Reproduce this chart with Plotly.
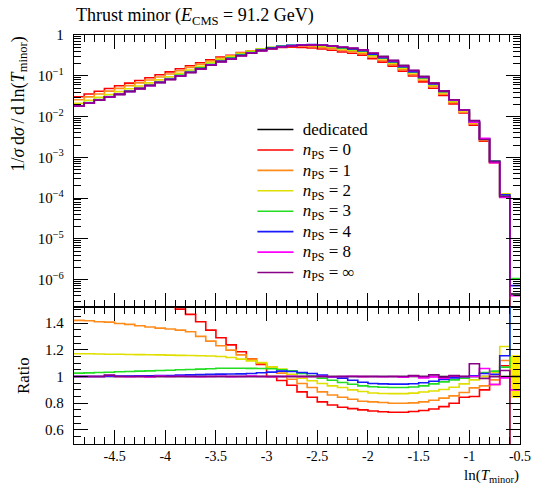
import numpy as np
import plotly.graph_objects as go

# ---------------- data ----------------
bin_lo = -4.9
bin_width = 0.1
n_bins = 44
edges = [round(bin_lo + bin_width * i, 2) for i in range(n_bins + 1)]

# dedicated distribution, log10 of 1/sigma dsigma/dln(Tminor)
dedicated_log10 = [
    -1.74, -1.668, -1.596, -1.525, -1.455, -1.385, -1.315, -1.24, -1.165, -1.09,
    -1.005, -0.92, -0.83, -0.74, -0.654, -0.588, -0.507, -0.449, -0.384, -0.335,
    -0.294, -0.27, -0.253, -0.245, -0.253, -0.27, -0.302, -0.327, -0.368, -0.449,
    -0.531, -0.629, -0.752, -0.874, -1.021, -1.185, -1.373, -1.593, -1.838, -2.14,
    -2.557, -3.105, -3.98, -6.35,
]
dedicated_relerr = [0.0] * 43 + [0.16]

ratio_n0 = [
    1.68, 1.66, 1.65, 1.64, 1.62, 1.60, 1.58, 1.56, 1.545, 1.53,
    1.504, 1.465, 1.41, 1.347, 1.29, 1.237, 1.185, 1.133, 1.09, 1.0,
    0.97, 0.935, 0.885, 0.845, 0.81, 0.787, 0.77, 0.76, 0.75, 0.742,
    0.736, 0.733, 0.733, 0.738, 0.746, 0.757, 0.775, 0.80, 0.845, 0.85,
    0.9, 0.94, 1.08, 0.001,
]
ratio_n1 = [
    1.42, 1.417, 1.41, 1.407, 1.397, 1.39, 1.38, 1.37, 1.362, 1.355,
    1.347, 1.335, 1.30, 1.265, 1.23, 1.197, 1.162, 1.13, 1.097, 1.072,
    1.025, 0.98, 0.948, 0.918, 0.885, 0.862, 0.845, 0.83, 0.815, 0.81,
    0.805, 0.80, 0.80, 0.803, 0.81, 0.822, 0.838, 0.855, 0.88, 0.915,
    0.93, 0.975, 1.12, 0.001,
]
ratio_n2 = [
    1.17, 1.17, 1.168, 1.167, 1.166, 1.165, 1.164, 1.163, 1.162, 1.16,
    1.158, 1.157, 1.155, 1.153, 1.15, 1.142, 1.13, 1.117, 1.105, 1.072,
    1.055, 1.017, 0.988, 0.968, 0.948, 0.93, 0.918, 0.90, 0.888, 0.877,
    0.873, 0.872, 0.872, 0.876, 0.884, 0.892, 0.903, 0.92, 0.945, 0.975,
    1.0, 1.03, 1.225, 0.001,
]
ratio_n3 = [
    1.025, 1.027, 1.03, 1.032, 1.035, 1.037, 1.04, 1.042, 1.045, 1.047,
    1.05, 1.052, 1.055, 1.058, 1.062, 1.062, 1.062, 1.061, 1.06, 1.058,
    1.05, 1.042, 1.022, 1.005, 0.988, 0.972, 0.955, 0.942, 0.93, 0.923,
    0.92, 0.918, 0.918, 0.922, 0.93, 0.945, 0.96, 0.975, 0.988, 1.0,
    1.03, 1.04, 1.07, 2.4,
]
ratio_n4 = [
    1.0, 1.0, 1.0, 1.002, 1.003, 1.004, 1.005, 1.006, 1.007, 1.008,
    1.01, 1.012, 1.014, 1.016, 1.018, 1.019, 1.02, 1.022, 1.028, 1.033,
    1.04, 1.037, 1.03, 1.022, 1.01, 0.997, 0.988, 0.972, 0.957, 0.948,
    0.945, 0.943, 0.943, 0.946, 0.953, 0.965, 0.978, 0.99, 0.998, 1.005,
    1.022, 1.017, 1.155, 1.6,
]
ratio_n8 = [
    1.0, 1.0, 1.0, 1.008, 1.0, 0.998, 1.0, 0.996, 1.004, 1.0,
    1.002, 1.0, 0.998, 1.0, 1.002, 0.999, 1.0, 1.003, 1.0, 0.998,
    1.0, 1.002, 0.999, 1.0, 1.001, 0.998, 1.0, 1.002, 0.999, 1.0,
    0.998, 1.0, 0.995, 1.004, 0.99, 0.997, 0.988, 1.005, 1.0, 1.0,
    1.06, 0.94, 0.99, 0.9,
]
ratio_ninf = [
    1.0, 1.0, 1.0, 1.01, 1.0, 1.0, 1.0, 1.0, 1.0, 1.0,
    1.0, 1.0, 1.0, 1.0, 1.0, 1.0, 1.0, 1.0, 1.0, 1.0,
    1.0, 1.0, 1.0, 1.0, 1.0, 1.0, 1.0, 1.0, 1.0, 1.0,
    1.0, 1.0, 1.0, 1.007, 1.0, 1.012, 0.995, 1.008, 1.0, 1.095,
    0.985, 1.0, 1.045, 0.2,
]

series_names = ["<i>n</i><sub>PS</sub> = 0", "<i>n</i><sub>PS</sub> = 1", "<i>n</i><sub>PS</sub> = 2",
                "<i>n</i><sub>PS</sub> = 3", "<i>n</i><sub>PS</sub> = 4", "<i>n</i><sub>PS</sub> = 8",
                "<i>n</i><sub>PS</sub> = ∞"]
series_ratios = [ratio_n0, ratio_n1, ratio_n2, ratio_n3, ratio_n4, ratio_n8, ratio_ninf]
series_colors = ["#ff0000", "#ff8c1a", "#e0e000", "#22dd22", "#1a1aff", "#ff00ff", "#880088"]

x_tickvals = [-4.5, -4, -3.5, -3, -2.5, -2, -1.5, -1, -0.5]
x_ticktext = ["-4.5", "-4", "-3.5", "-3", "-2.5", "-2", "-1.5", "-1", "-0.5"]
y_tickvals = [1e-6, 1e-5, 1e-4, 1e-3, 1e-2, 1e-1, 1]
y_ticktext = ["10<sup>−6</sup>", "10<sup>−5</sup>", "10<sup>−4</sup>", "10<sup>−3</sup>",
              "10<sup>−2</sup>", "10<sup>−1</sup>", "1"]
r_tickvals = [0.6, 0.8, 1.0, 1.2, 1.4]
r_ticktext = ["0.6", "0.8", "1", "1.2", "1.4"]

# ---------------- figure ----------------
FONT = "Liberation Serif"
ded = np.power(10.0, np.array(dedicated_log10))


def steps(vals):
    v = list(vals)
    return v + [v[-1]]


fig = go.Figure()

# dedicated error band in ratio
relerr = np.array(dedicated_relerr)
for i in range(n_bins):
    if relerr[i] > 0:
        fig.add_trace(go.Scatter(
            x=[edges[i], edges[i + 1], edges[i + 1], edges[i], edges[i]],
            y=[1 - relerr[i], 1 - relerr[i], 1 + relerr[i], 1 + relerr[i], 1 - relerr[i]],
            fill="toself", fillcolor="#ffee00", line=dict(width=0, color="#ffee00"),
            mode="lines", showlegend=False, hoverinfo="skip", xaxis="x2", yaxis="y2"))

legend_span = "<span style='font-size:17px'> %s</span>"

fig.add_trace(go.Scatter(x=edges, y=steps(ded), mode="lines", line_shape="hv",
                         line=dict(color="black", width=1.6), name=legend_span % "dedicated",
                         xaxis="x", yaxis="y"))
fig.add_trace(go.Scatter(x=edges, y=steps(np.ones(n_bins)), mode="lines", line_shape="hv",
                         line=dict(color="black", width=1.6), showlegend=False,
                         xaxis="x2", yaxis="y2"))

for name, ratio, col in zip(series_names, series_ratios, series_colors):
    vals = ded * np.array(ratio)
    fig.add_trace(go.Scatter(x=edges, y=steps(vals), mode="lines", line_shape="hv",
                             line=dict(color=col, width=1.6), name=legend_span % name,
                             xaxis="x", yaxis="y"))
    fig.add_trace(go.Scatter(x=edges, y=steps(ratio), mode="lines", line_shape="hv",
                             line=dict(color=col, width=1.6), showlegend=False,
                             xaxis="x2", yaxis="y2"))

minor_log = [k * 10.0 ** d for d in range(-7, 0) for k in range(2, 10)]

axis_common = dict(showline=True, linecolor="black", linewidth=1.3, mirror="allticks",
                   ticks="inside", tickcolor="black", tickwidth=1.1, showgrid=False,
                   zeroline=False)

H = 486
top, bottom = 35, 42
split = 307
ph = H - top - bottom
dom_split = (H - bottom - split) / ph

fig.update_layout(
    width=543, height=486,
    margin=dict(l=74, r=14, t=top, b=bottom),
    paper_bgcolor="white", plot_bgcolor="white",
    font=dict(family=FONT, size=15, color="black"),
    xaxis=dict(domain=[0, 1], anchor="y", range=[-4.9, -0.5], tickmode="array",
               tickvals=x_tickvals, ticktext=x_ticktext, showticklabels=False, ticklen=14,
               minor=dict(tickmode="linear", tick0=-4.9, dtick=0.1, ticks="inside",
                          ticklen=7, tickcolor="black", tickwidth=1.1),
               **axis_common),
    yaxis=dict(domain=[dom_split, 1], anchor="x", type="log", range=[-6.67, 0],
               tickmode="array", tickvals=y_tickvals, ticktext=y_ticktext, ticklen=14,
               ticklabelstandoff=6,
               minor=dict(tickmode="array", tickvals=minor_log, ticks="inside",
                          ticklen=7, tickcolor="black", tickwidth=1.1),
               **axis_common),
    xaxis2=dict(domain=[0, 1], anchor="y2", range=[-4.9, -0.5], tickmode="array",
                tickvals=x_tickvals, ticktext=x_ticktext, ticklen=14, ticklabelstandoff=-1,
                tickfont=dict(size=14),
                minor=dict(tickmode="linear", tick0=-4.9, dtick=0.1, ticks="inside",
                           ticklen=7, tickcolor="black", tickwidth=1.1),
                **axis_common),
    yaxis2=dict(domain=[0, dom_split], anchor="x2", range=[0.495, 1.52],
                tickmode="array", tickvals=r_tickvals, ticktext=r_ticktext, ticklen=14,
                ticklabelstandoff=6,
                minor=dict(tickmode="linear", tick0=0, dtick=0.05, ticks="inside",
                           ticklen=7, tickcolor="black", tickwidth=1.1),
                **axis_common),
    legend=dict(x=0.400, y=0.806, xanchor="left", yanchor="top", bgcolor="rgba(0,0,0,0)",
                borderwidth=0, font=dict(family=FONT, size=13.4), itemwidth=36,
                tracegroupgap=0),
    showlegend=True,
)

fig.add_annotation(text="Thrust minor (<i>E</i><sub>CMS</sub> = 91.2 GeV)",
                   xref="paper", yref="paper", x=0, y=(H - bottom - 17) / ph,
                   xanchor="left", yanchor="middle", showarrow=False,
                   font=dict(family=FONT, size=18))
fig.add_annotation(text="1/<i>σ</i>\u2009d<i>σ</i>\u2009/\u2009d\u2009ln(<i>T</i><sub>minor</sub>)",
                   xref="paper", yref="paper", x=(18 - 74) / 455, y=1,
                   xanchor="center", yanchor="top", textangle=-90, showarrow=False,
                   font=dict(family=FONT, size=18))
fig.add_annotation(text="Ratio", xref="paper", yref="paper", x=(22 - 74) / 455,
                   y=(H - bottom - 376) / ph, xanchor="center", yanchor="middle",
                   textangle=-90, showarrow=False, font=dict(family=FONT, size=17))
fig.add_annotation(text="ln(<i>T</i><sub>minor</sub>)", xref="paper", yref="paper",
                   x=1, y=-(bottom - 0.5) / ph, borderpad=0,
                   xanchor="right", yanchor="bottom", showarrow=False,
                   font=dict(family=FONT, size=15))

fig.write_html("out.html")
